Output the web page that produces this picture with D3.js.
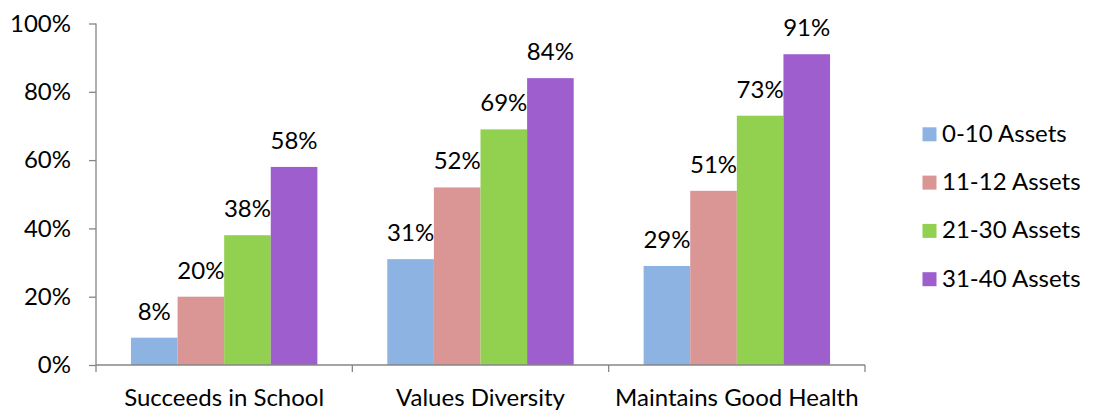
<!DOCTYPE html>
<html><head><meta charset="utf-8">
<script src="https://cdn.jsdelivr.net/npm/d3@7"></script>
<style>body{margin:0;background:#fff}svg{display:block}text{font-family:Lato,"Open Sans",sans-serif;fill:#000}</style>
</head><body><svg id="c" width="1094" height="411"></svg>
<script>
const categories = ["Succeeds in School", "Values Diversity", "Maintains Good Health"];
const seriesNames = ["0-10 Assets", "11-12 Assets", "21-30 Assets", "31-40 Assets"];
const s0 = [8, 31, 29];
const s1 = [20, 52, 51];
const s2 = [38, 69, 73];
const s3 = [58, 84, 91];
const yTicks = [0, 20, 40, 60, 80, 100];
const colors = ["#8DB3E2", "#D99694", "#92D050", "#9E5ECE"];
const series = [s0, s1, s2, s3];

const FS = "24px";
const svg = d3.select("#c");
const mLeft = 96, mRight = 865, mTop = 23.5, mBottom = 365;
const x = d3.scaleBand().domain(categories).range([mLeft, mRight]).paddingInner(0).paddingOuter(0);
const xs = d3.scaleBand().domain(seriesNames).range([0, x.bandwidth()]).paddingInner(0).paddingOuter(0.75);
const y = d3.scaleLinear().domain([0, 100]).range([mBottom, mTop]);

// y axis
const yAxis = d3.axisLeft(y).tickValues(yTicks).tickFormat(d => d + "%").tickSize(7).tickPadding(18);
const gy = svg.append("g").attr("transform", `translate(${mLeft},0)`).call(yAxis);
gy.selectAll("path,line").attr("stroke", "#868686").attr("stroke-width", 1.3);
gy.select(".domain").attr("d", `M0,${mTop}V${mBottom}`);
gy.selectAll("text").style("font-size", FS).style("font-family", "Lato, 'Open Sans', sans-serif").attr("fill", "#000");

// bars
categories.forEach((c, ci) => {
  series.forEach((s, si) => {
    const bx = x(c) + xs(seriesNames[si]);
    svg.append("rect").attr("x", bx).attr("y", y(s[ci])).attr("width", xs.bandwidth()).attr("height", y(0) - y(s[ci])).attr("fill", colors[si]);
    svg.append("text").attr("x", bx + xs.bandwidth()/2).attr("y", y(s[ci]) - 18).attr("text-anchor", "middle").style("font-size", FS).text(s[ci] + "%");
  });
});

// x axis
const xAxis = d3.axisBottom(x).tickSize(0).tickPadding(23.5);
const gx = svg.append("g").attr("transform", `translate(0,${mBottom})`).call(xAxis);
gx.select(".domain").attr("d", `M${mLeft},0H${mRight}`).attr("stroke", "#868686").attr("stroke-width", 1.3);
gx.selectAll("text").style("font-size", FS).style("font-family", "Lato, 'Open Sans', sans-serif").attr("fill", "#000").attr("dy", "0.71em");
const bounds = categories.map(c => x(c)).concat([x(categories[categories.length-1]) + x.bandwidth()]);
gx.selectAll(".bnd").data(bounds).enter().append("line").attr("x1", d => d).attr("x2", d => d).attr("y1", 0).attr("y2", 7).attr("stroke", "#868686").attr("stroke-width", 1.3);

// legend
const lg = svg.append("g");
seriesNames.forEach((n, i) => {
  const cy = 134.3 + i * 48.3;
  lg.append("rect").attr("x", 922.5).attr("y", cy - 7).attr("width", 14).attr("height", 14).attr("fill", colors[i]);
  lg.append("text").attr("x", 942).attr("y", cy + 7.5).style("font-size", FS).text(n);
});
</script></body></html>
